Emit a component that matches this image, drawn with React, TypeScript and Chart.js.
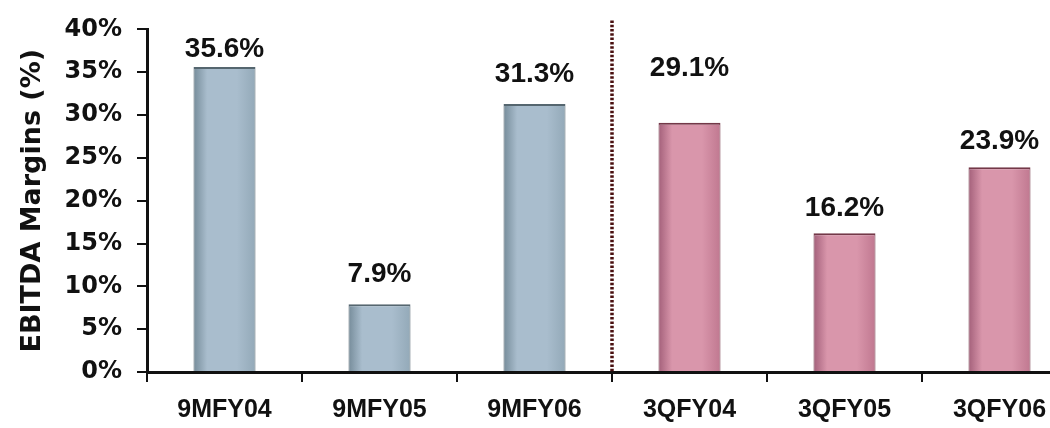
import React, { useEffect, useRef } from "react";
import { Chart, registerables } from "chart.js";

Chart.register(...registerables);

// ---- data ----
const categories = ["9MFY04", "9MFY05", "9MFY06", "3QFY04", "3QFY05", "3QFY06"];
const ebitdaMargins = [35.6, 7.9, 31.3, 29.1, 16.2, 23.9];
const periodGroup = ["nine", "nine", "nine", "quarter", "quarter", "quarter"];
const yAxisMin = 0;
const yAxisMax = 40;
const yAxisStep = 5;
const yAxisTitle = "EBITDA Margins (%)";

// ---- styles (not data) ----
const labelLift = [18, 30, 30, 54, 25, 26];
const palette: Record<string, string[]> = {
  nine: ["#768c9a", "#a9bdcd", "#93a9b8", "#55666f"],
  quarter: ["#a3607a", "#d996ab", "#c07890", "#733848"],
};
const BAR_FRACTION = 0.4;

const dividerPlugin = {
  id: "divider",
  afterDatasetsDraw(chart: any) {
    const xs = chart.scales.x;
    const { top, bottom } = chart.chartArea;
    const x = (xs.getPixelForTick(2) + xs.getPixelForTick(3)) / 2;
    const ctx = chart.ctx;
    ctx.save();
    ctx.strokeStyle = "#4a1010";
    ctx.lineWidth = 3.5;
    ctx.setLineDash([2.5, 1.8]);
    ctx.beginPath();
    ctx.moveTo(x, top - 9);
    ctx.lineTo(x, bottom);
    ctx.stroke();
    ctx.restore();
  },
};

const valueLabelPlugin = {
  id: "valueLabels",
  afterDatasetsDraw(chart: any) {
    const meta = chart.getDatasetMeta(0);
    const ctx = chart.ctx;
    ctx.save();
    ctx.fillStyle = "#111";
    ctx.font = "bold 28px 'Liberation Sans', Arial, sans-serif";
    ctx.textAlign = "center";
    ctx.textBaseline = "middle";
    meta.data.forEach((el: any, i: number) => {
      const v = ebitdaMargins[i];
      ctx.fillText(v.toFixed(1) + "%", el.x, el.y - labelLift[i]);
    });
    ctx.restore();
  },
};

export default function App() {
  const canvasRef = useRef<HTMLCanvasElement | null>(null);

  useEffect(() => {
    if (!canvasRef.current) return;
    const chart = new Chart(canvasRef.current, {
      type: "bar",
      data: {
        labels: categories,
        datasets: [
          {
            data: ebitdaMargins,
            backgroundColor: (c: any) => {
              const i = c.dataIndex;
              const p = palette[periodGroup[i] ?? "nine"];
              const xs = c.chart.scales?.x;
              if (!xs || i == null || !xs.width) return p[1];
              const cx = xs.getPixelForValue(i);
              const half = ((xs.width / categories.length) * BAR_FRACTION) / 2;
              const g = c.chart.ctx.createLinearGradient(cx - half, 0, cx + half, 0);
              g.addColorStop(0, p[0]);
              g.addColorStop(0.22, p[1]);
              g.addColorStop(0.7, p[1]);
              g.addColorStop(1, p[2]);
              return g;
            },
            borderColor: (c: any) => palette[periodGroup[c.dataIndex] ?? "nine"][3],
            borderWidth: { top: 2, left: 1, right: 1, bottom: 0 },
            borderSkipped: "bottom",
            categoryPercentage: 1,
            barPercentage: BAR_FRACTION,
          },
        ],
      },
      options: {
        responsive: false,
        maintainAspectRatio: false,
        animation: false,
        devicePixelRatio: 1,
        layout: { padding: { top: 22, right: 3, left: 0, bottom: 0 } },
        plugins: {
          legend: { display: false },
          tooltip: { enabled: false },
          title: { display: false },
        },
        scales: {
          x: {
            offset: true,
            grid: {
              offset: true,
              drawOnChartArea: false,
              drawTicks: true,
              tickLength: 10,
              color: "#111",
              lineWidth: 2,
            },
            border: { display: true, color: "#111", width: 3 },
            ticks: {
              color: "#111",
              font: { family: "'Liberation Sans', Arial, sans-serif", weight: "bold", size: 25 },
              padding: 13,
              autoSkip: false,
              maxRotation: 0,
            },
            afterFit: (s: any) => {
              s.height = 56;
            },
          },
          y: {
            min: yAxisMin,
            max: yAxisMax,
            grid: {
              drawOnChartArea: false,
              drawTicks: true,
              tickLength: 10,
              color: "#111",
              lineWidth: 2,
            },
            border: { display: true, color: "#111", width: 3 },
            ticks: {
              stepSize: yAxisStep,
              color: "#111",
              padding: 15,
              font: { family: "'DejaVu Sans', sans-serif", weight: "bold", size: 24 },
              callback: (v: any) => v + "%",
            },
            title: {
              display: true,
              text: yAxisTitle,
              color: "#111",
              font: { family: "'DejaVu Sans', sans-serif", weight: "bold", size: 27 },
              padding: { top: 17, bottom: 0 },
            },
            afterFit: (s: any) => {
              s.width = 147;
            },
          },
        },
      },
      plugins: [dividerPlugin, valueLabelPlugin],
    });
    return () => chart.destroy();
  }, []);

  return (
    <div
      style={{
        position: "fixed",
        left: 0,
        top: 0,
        width: 1050,
        height: 428,
        overflow: "hidden",
        background: "#ffffff",
      }}
    >
      <canvas ref={canvasRef} width={1080} height={428} style={{ display: "block", width: 1080, height: 428 }} />
    </div>
  );
}
